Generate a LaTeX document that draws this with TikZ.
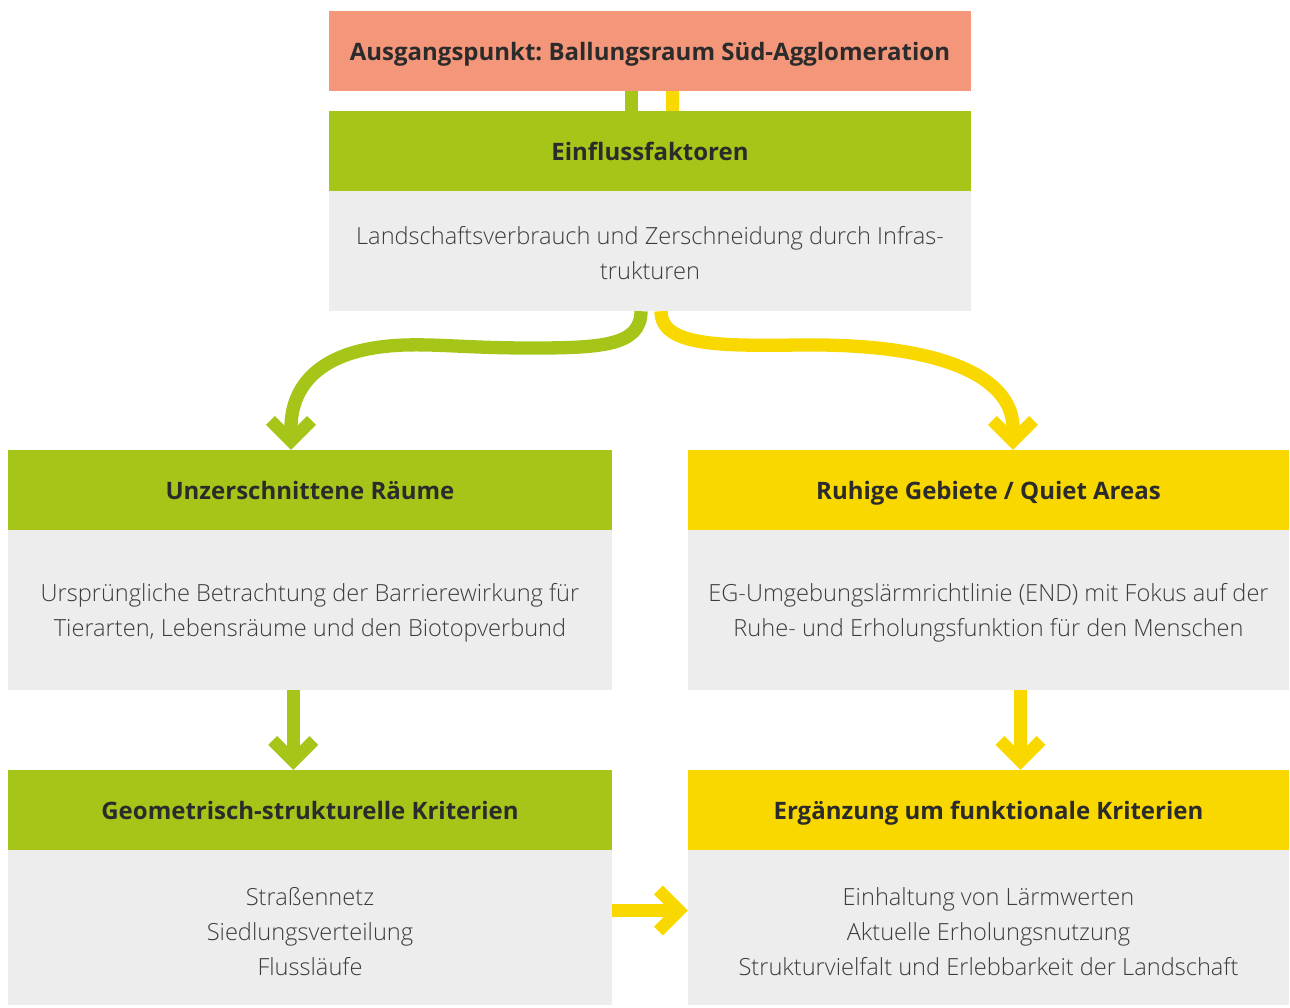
\documentclass[tikz,border=0pt]{standalone}
\usepackage{fontspec}
\setmainfont{Open Sans}
\newfontfamily\lightfont{Open Sans Light}
\usetikzlibrary{calc}
\frenchspacing

\definecolor{salmon}{HTML}{F39679}
\definecolor{leaf}{HTML}{A5C618}
\definecolor{sun}{HTML}{F9D800}
\definecolor{panel}{HTML}{EDEDED}
\definecolor{ink}{HTML}{2B2B2B}
\definecolor{softink}{HTML}{3C3C3C}

\tikzset{
  x=1pt, y=-1pt,
  box/.style={rectangle, inner sep=0pt, anchor=center},
  head/.style={box, minimum height=80, text=ink, text height=23pt, text depth=5pt,
    font=\fontsize{24}{28}\selectfont\bfseries},
  panelbox/.style={box, fill=panel},
  bodytext/.style={box, text=softink, align=center,
    font=\lightfont\fontsize{23.6}{35}\selectfont},
  stem/.style={line width=13.3pt, line cap=butt},
  chev/.pic={\fill (0,0) -- (-25,-25) -- (-16.2,-33.8) -- (-6.6,-24.2)
    -- (6.6,-24.2) -- (16.2,-33.8) -- (25,-25) -- cycle;},
}

\begin{document}
\begin{tikzpicture}
\useasboundingbox (0,0) rectangle (1290,1007);

% top row
\node[head, fill=salmon, minimum width=642] (top) at (650,51)
  {Ausgangspunkt: Ballungsraum Süd-Agglomeration};
\node[head, fill=leaf, minimum width=642] (einh) at (650,151) {Einflussfaktoren};
\node[panelbox, minimum width=642, minimum height=120] (einb) at (650,251) {};
\node[bodytext] (eint) at (650,253)
  {Landschaftsverbrauch und Zerschneidung durch Infras-\\trukturen};

% left column
\node[head, fill=leaf, minimum width=604] (uzh) at (310,490) {Unzerschnittene Räume};
\node[panelbox, minimum width=604, minimum height=160] (uzb) at (310,610) {};
\node[bodytext] (uzt) at (310,613)
  {Ursprüngliche Betrachtung der Barrierewirkung für\\Tierarten, Lebensräume und den Biotopverbund};
\node[head, fill=leaf, minimum width=604] (gkh) at (310,810) {Geometrisch-strukturelle Kriterien};
\node[panelbox, minimum width=604, minimum height=155] (gkb) at (310,927.5) {};
\node[bodytext] (gkt) at (310,931.5) {Straßennetz\\Siedlungsverteilung\\Flussläufe};

% right column
\node[head, fill=sun, minimum width=601] (rgh) at (988.5,490) {Ruhige Gebiete / Quiet Areas};
\node[panelbox, minimum width=601, minimum height=160] (rgb) at (988.5,610) {};
\node[bodytext] (rgt) at (988.5,613)
  {EG-Umgebungslärmrichtlinie (END) mit Fokus auf der\\Ruhe- und Erholungsfunktion für den Menschen};
\node[head, fill=sun, minimum width=601] (efh) at (988.5,810) {Ergänzung um funktionale Kriterien};
\node[panelbox, minimum width=601, minimum height=155] (efb) at (988.5,927.5) {};
\node[bodytext] (eft) at (988.5,931.5)
  {Einhaltung von Lärmwerten\\Aktuelle Erholungsnutzung\\Strukturvielfalt und Erlebbarkeit der Landschaft};

% short links between the top boxes
\draw[stem, leaf] ($(top.south)+(-18.5,0)$) -- ($(einh.north)+(-18.5,0)$);
\draw[stem, sun] ($(top.south)+(22.5,0)$) -- ($(einh.north)+(22.5,0)$);

% curved branches
\draw[stem, leaf, shorten >=22pt] ($(einb.south)+(-9,0)$)
  .. controls +(0,35) and (600,348) .. (530,348)
  .. controls (470,348) and (440,344) .. (405,345)
  .. controls (315,348) and (291,390) .. ($(uzh.north)+(-19,0)$);
\pic[leaf] at ($(uzh.north)+(-19,0)$) {chev};

\draw[stem, sun, shorten >=22pt] ($(einb.south)+(11,0)$)
  .. controls +(0,35) and (720,346) .. (800,345)
  .. controls (960,343) and (1013,385) .. ($(rgh.north)+(24.5,0)$);
\pic[sun] at ($(rgh.north)+(24.5,0)$) {chev};

% straight arrows
\draw[stem, leaf, shorten >=22pt] ($(uzb.south)+(-16.7,0)$) -- ($(gkh.north)+(-16.7,0)$);
\pic[leaf] at ($(gkh.north)+(-16.7,0)$) {chev};

\draw[stem, sun, shorten >=22pt] ($(rgb.south)+(32,0)$) -- ($(efh.north)+(32,0)$);
\pic[sun] at ($(efh.north)+(32,0)$) {chev};

\draw[stem, sun, shorten >=22pt] ($(gkb.east)+(0,-17)$) -- ($(efb.west)+(0,-17)$);
\pic[sun, rotate=90] at ($(efb.west)+(0,-17)$) {chev};
\end{tikzpicture}
\end{document}
